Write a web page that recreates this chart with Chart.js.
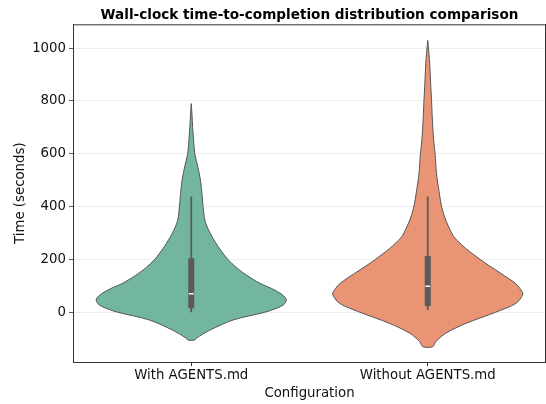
<!DOCTYPE html>
<html>
<head>
<meta charset="utf-8">
<script src="https://cdn.jsdelivr.net/npm/chart.js@4.4.1/dist/chart.umd.min.js"></script>
<style>
  html, body { margin: 0; padding: 0; background: #fff; }
</style>
</head>
<body>
<canvas id="chart" width="546" height="404"></canvas>
<script>
// categories and axis ticks
const categories = ['With AGENTS.md', 'Without AGENTS.md'];
const yTicks = [0, 200, 400, 600, 800, 1000];

// violin outlines: time (s) from top to bottom, half width in category units
const withTimes  = [790, 750, 700, 650, 600, 550, 500, 450, 400, 360, 335, 310, 280, 250, 220, 200, 170, 140, 110, 90, 70, 55, 46, 30, 15, 0, -29, -67, -98, -105];
const withWidths = [0, 0.003, 0.006, 0.010, 0.015, 0.028, 0.039, 0.045, 0.050, 0.055, 0.062, 0.074, 0.092, 0.113, 0.137, 0.155, 0.19, 0.235, 0.29, 0.34, 0.38, 0.398, 0.402, 0.392, 0.36, 0.31, 0.177, 0.08, 0.021, 0.015];

const withoutTimes  = [1029, 980, 941, 870, 802, 740, 689, 640, 601, 525, 462, 399, 349, 311, 290, 273, 240, 200, 175, 147, 110, 90, 69, 34, 0, -42, -79, -111, -130];
const withoutWidths = [0, 0.005, 0.0085, 0.012, 0.016, 0.019, 0.022, 0.026, 0.031, 0.037, 0.047, 0.059, 0.076, 0.095, 0.107, 0.123, 0.163, 0.222, 0.262, 0.31, 0.37, 0.39, 0.402, 0.373, 0.286, 0.161, 0.076, 0.034, 0.021];

// inner box: [whisker low, q1, median, q3, whisker high]
const withBox    = [0, 15, 70, 205, 438];
const withoutBox = [9, 24, 99, 213, 438];

const colors = ['#72b6a1', '#e99575'];
const edge = '#555555', boxGrey = '#5a5a5a';

// closed outline: right side going down, left side coming back up
const violin = (times, widths, pos, color) => ({
  data: times.map((t, i) => ({ x: pos + widths[i], y: t }))
    .concat(times.map((t, i) => ({ x: pos - widths[i], y: t })).reverse()),
  showLine: true, fill: 'shape', backgroundColor: color, borderColor: edge,
  borderWidth: 1, tension: 0.3, pointRadius: 0, order: 3
});

const seg = (pts, color, width, order) => ({
  data: pts, showLine: true, borderColor: color, borderWidth: width,
  borderCapStyle: 'butt', pointRadius: 0, fill: false, order
});

const inner = (b, pos) => [
  seg([{ x: pos, y: b[0] }, { x: pos, y: b[4] }], boxGrey, 1.8, 2),
  seg([{ x: pos, y: b[1] }, { x: pos, y: b[3] }], boxGrey, 6, 1),
  seg([{ x: pos - 0.01, y: b[2] }, { x: pos + 0.01, y: b[2] }], '#ffffff', 1.5, 0)
];

// top and right spines
const frame = {
  id: 'frame',
  afterDraw(c) {
    const { ctx, chartArea: a } = c;
    ctx.save();
    ctx.strokeStyle = '#333'; ctx.lineWidth = 1;
    ctx.beginPath();
    ctx.moveTo(a.left, a.top + 0.5); ctx.lineTo(a.right, a.top + 0.5);
    ctx.moveTo(a.right - 0.5, a.top); ctx.lineTo(a.right - 0.5, a.bottom);
    ctx.stroke();
    ctx.restore();
  }
};

Chart.defaults.font.family = '"DejaVu Sans", sans-serif';
Chart.defaults.font.size = 13.3;
Chart.defaults.color = '#111';

new Chart(document.getElementById('chart'), {
  type: 'scatter',
  data: {
    datasets: [
      violin(withTimes, withWidths, 0, colors[0]),
      violin(withoutTimes, withoutWidths, 1, colors[1]),
      ...inner(withBox, 0),
      ...inner(withoutBox, 1)
    ]
  },
  options: {
    responsive: false,
    devicePixelRatio: 1,
    animation: false,
    layout: { padding: 0 },
    plugins: {
      legend: { display: false },
      tooltip: { enabled: false },
      title: {
        display: true, fullSize: false,
        text: 'Wall-clock time-to-completion distribution comparison',
        color: '#000', font: { size: 13.6, weight: 'bold' },
        padding: { top: 7, bottom: 1 }
      }
    },
    scales: {
      x: {
        type: 'linear', min: -0.5, max: 1.5,
        afterBuildTicks: s => { s.ticks = categories.map((_, i) => ({ value: i })); },
        afterFit: s => { s.height = 42; },
        ticks: { autoSkip: false, maxRotation: 0, padding: 2,
                 callback: (v, i) => categories[i] },
        grid: { drawOnChartArea: false, tickLength: 4, tickColor: '#333' },
        border: { display: true, color: '#333', width: 1 },
        title: { display: true, text: 'Configuration', padding: { top: 0, bottom: 2 } }
      },
      y: {
        type: 'linear', min: -188, max: 1090,
        afterBuildTicks: s => { s.ticks = yTicks.map(v => ({ value: v })); },
        afterFit: s => { s.width = 73; },
        ticks: { padding: 3, callback: v => String(v) },
        grid: { color: '#e9e9e9', lineWidth: 0.8, tickLength: 4, tickColor: '#333' },
        border: { display: true, color: '#333', width: 1 },
        title: { display: true, text: 'Time (seconds)', padding: { top: 13, bottom: 0 } }
      }
    }
  },
  plugins: [frame]
});
</script>
</body>
</html>
